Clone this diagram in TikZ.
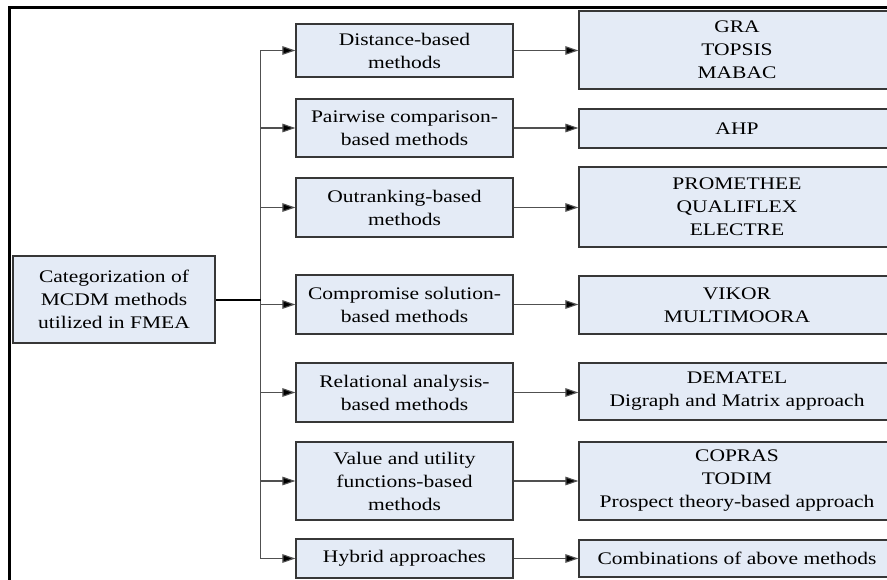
\documentclass[tikz,border=0pt]{standalone}
\usepackage{fontspec}
\setmainfont{Liberation Serif}[FakeStretch=1.215]
\usetikzlibrary{arrows.meta}
\definecolor{boxfill}{RGB}{228,235,246}
\definecolor{boxline}{RGB}{55,55,55}
\definecolor{linkgray}{RGB}{80,80,80}
\tikzset{
  box/.style={draw=boxline, line width=1.2pt, fill=boxfill, align=center,
    inner sep=0pt, font=\fontsize{17.7}{23}\selectfont},
  link/.style={draw=linkgray, line width=1.1pt,
    -{Triangle[length=13pt,width=8.5pt,fill=black]}},
  frame/.style={draw=black, line width=2.6pt}
}
\begin{document}
\begin{tikzpicture}[x=1pt,y=-1pt]
  \useasboundingbox (0,0) rectangle (887,579);
  \clip (0,0) rectangle (887,579);
  \fill[white] (0,0) rectangle (887,579);

  % outer frame (top and left edges)
  \draw[frame] (9.5,590) -- (9.5,7.5) -- (900,7.5);

  % root
  \node[box, minimum width=202pt, minimum height=87pt] (root) at (114,299.5)
    {Categorization of\\MCDM methods\\utilized in FMEA};

  % method families
  \node[box, minimum width=217pt, minimum height=53pt] (m1) at (404.5,50.5)
    {Distance-based\\methods};
  \node[box, minimum width=217pt, minimum height=58pt] (m2) at (404.5,128)
    {Pairwise comparison-\\based methods};
  \node[box, minimum width=217pt, minimum height=59pt] (m3) at (404.5,207.5)
    {Outranking-based\\methods};
  \node[box, minimum width=217pt, minimum height=59pt] (m4) at (404.5,304.5)
    {Compromise solution-\\based methods};
  \node[box, minimum width=217pt, minimum height=59pt] (m5) at (404.5,392.5)
    {Relational analysis-\\based methods};
  \node[box, minimum width=217pt, minimum height=78pt] (m6) at (404.5,481)
    {Value and utility\\functions-based\\methods};
  \node[box, minimum width=217pt, minimum height=39pt] (m7) at (404.5,558.5)
    {Hybrid approaches};

  % individual methods
  \node[box, minimum width=316pt, minimum height=78pt] (r1) at (737,50)
    {GRA\\TOPSIS\\MABAC};
  \node[box, minimum width=316pt, minimum height=39pt] (r2) at (737,128.5)
    {AHP};
  \node[box, minimum width=316pt, minimum height=80pt] (r3) at (737,207)
    {PROMETHEE\\QUALIFLEX\\ELECTRE};
  \node[box, minimum width=316pt, minimum height=58pt] (r4) at (737,305)
    {VIKOR\\MULTIMOORA};
  \node[box, minimum width=316pt, minimum height=57pt] (r5) at (737,391.5)
    {DEMATEL\\Digraph and Matrix approach};
  \node[box, minimum width=316pt, minimum height=78pt] (r6) at (737,481)
    {COPRAS\\TODIM\\Prospect theory-based approach};
  \node[box, minimum width=316pt, minimum height=37pt] (r7) at (737,558.5)
    {Combinations of above methods};

  % root to families
  \foreach \m in {m1,m2,m3,m4,m5,m6,m7}
    \draw[link] (root.east) -- ++(45,0) |- (\m.west);
  \draw[black, line width=2pt] (root.east) -- ++(45,0);

  % families to methods
  \foreach \i in {1,...,7}
    \draw[link] (m\i.east) -- (r\i.west |- m\i.east);
\end{tikzpicture}
\end{document}
